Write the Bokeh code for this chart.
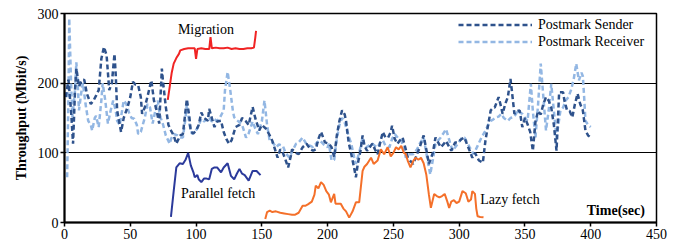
from bokeh.plotting import figure
from bokeh.models import Range1d, FixedTicker, Legend, LegendItem, ColumnDataSource
from bokeh.core.properties import value
from bokeh.embed import file_html
from bokeh.resources import INLINE

# ---- data ----
sender_t = [1,3,5,6.5,8,9,11,13,15,17,20,22,24,26,28,30,32,34,36,38,39,40,42,43,45,48,50,52,54,56,58,59,61,63,66,68,70,72,74,75,77,79,81,83,85,88,90,93,95,96,98,100,102,104,106,109,110,112,114,116,119,121,123,125,127,130,133,135,138,140,143,145,148,150,153,156,158,160,162,164,166,168,170,172,173,176,178,181,184,187,189,191,193,195,198,201,203,205,207,209,211,213,214,216,218,220,221.5,223,225,226.6,228,230,232,234,236,238,240,242,244,246,248,249,251,253,255,257,259,261,263,265,268,270,273,275,277,280,282,284,286,288,290,292,294,297,299,302,304,306,308,310,312,315,318,320,322,324,326,327,330,332,333,335,337,339,340,342,344,346,348,350,352,354,356,358,360,362,364,366,368,370,372,374,376,379,380,382,384,386,388,390,392,394,396,398,400]
sender_v = [180,205,160,113,190,221,195,204,205,185,170,175,182,190,235,252,240,190,200,242,210,161,140,130,150,166,180,202,198,197,180,156,165,180,204,175,161,142,221,200,166,140,132,125,113,125,127,177,150,130,128,132,140,158,150,146,163,150,137,145,146,130,120,113,118,137,140,150,145,140,166,150,132,140,135,125,117,105,93,105,100,90,79,95,105,100,98,108,113,105,103,105,120,130,115,113,108,94,125,146,161,155,146,115,98,80,65,85,103,125,110,103,108,113,105,98,115,130,122,122,130,139,120,113,118,122,108,93,88,84,98,108,125,105,84,100,122,115,108,112,117,110,103,115,115,120,122,112,103,93,100,89,86,118,140,161,165,165,180,165,156,170,180,206,190,156,160,161,137,150,141,130,103,145,160,155,170,180,175,165,140,103,187,187,175,161,160,151,170,185,170,161,132,125,122]

receiver_t = [2,3,3.6,5,6,8,9,10,11,13,14,16,18,20,21,23,24,26,28,29,31,33,35,37,39,40,42,45,47,49,51,53,55,56,58,59,61,63,65,67,69,71,72,73,75,77,80,81,83,86,88,90,92,93,95,97,99,101,104,106,108,110,112,114,116,118,121,122,124,126,128,129,131,133,135,138,140,143,145,147,150,152,154,156,158,161,163,166,168,171,173,176,178,181,184,187,189,192,194,197,200,201,203,205,207,209,211,212.6,215,218,220,221.5,224,226.6,228,230,232,234,236,238,240,242,244,247,249,251,254,256,258,259.5,262,265,268,270,273,275,278,280,282,284,286,288,290,293,295,297,299,302,304,306,308,311,314,317,320,322,324,326,328,330,332,334,337,339,341,343,344.4,346,348,350,352,354.5,356,358,360,362,364,366,368,370,372,374,377,379,381,383,385,387,389,391,393,394,395,396,398,400]
receiver_v = [65,180,293,200,151,190,230,200,161,190,200,170,146,140,132,150,153,137,175,200,175,142,160,175,160,146,140,175,170,158,150,149,140,127,130,137,150,170,165,142,160,175,160,151,140,125,113,120,127,125,122,122,150,170,140,127,130,135,149,145,148,151,145,148,146,150,161,190,216,190,160,151,147,144,140,122,128,145,135,127,145,175,140,117,115,108,112,110,100,93,102,113,115,122,112,110,108,115,118,112,108,113,89,90,120,140,150,146,130,113,95,84,100,122,112,108,112,113,110,108,115,118,110,108,120,127,120,118,105,93,98,98,105,113,122,100,69,90,113,118,122,128,134,115,103,108,113,122,122,115,108,98,110,122,132,140,146,148,151,152,156,150,146,150,151,155,161,158,156,150,146,199,160,122,170,228,180,132,160,199,160,122,161,165,175,180,190,205,228,204,215,210,180,146,140,137]

migration_t = [78.5,80,81.5,83,85,87,88,91,94,97,99,100,101,104,107,110,111,112,115,118,121,124,127,130,133,136,139,142,144,145,145.6]
migration_v = [176,195,215,228,236,242,247,249,250,250,250,235,249,250,249,249,266,250,251,250,250,251,249,250,249,249,250,250,251,265,275]

parallel_t = [80.9,83,85,87.5,90,92,94,96,98,99,101,102,104,106,108,110,112,114,116,119,121,124,126.5,129,131,133,135,137,140,143,146,149]
parallel_v = [8,45,79,85,84,90,100,82,72,65,68,62,58,63,63,62,77,79,79,72,79,85,67,62,70,77,70,68,60,74,74,68]

lazy_t = [152.6,154,156,158,160.7,164,167,170,173,175,178,181,183,185,188,190,191,193,195,197,199,201,202.5,205,206,210,212,214,216.4,219,221.5,224,226.6,228,230,233,235,238,240.5,243,245.6,248,250,252,254,256,258,259.5,261,263,265,267,269,271,273,275,277,278.5,281,283,285,287,289,291,292.4,294,296,298,300,302.5,305,307,309,310,312,313,314,316,318.5]
lazy_v = [5,15,17,15,16,14,13,12,11,11,14,24,24,26,30,40,53,49,58,54,45,40,29,41,27,27,20,16,7,16,29,29,74,80,84,93,84,89,105,98,108,95,100,108,105,110,100,98,88,79,88,93,90,93,85,69,40,21,41,38,36,38,41,30,21,30,32,28,30,45,42,30,33,45,41,20,9,8,7.5]

x_ticks = [0, 50, 100, 150, 200, 250, 300, 350, 400, 450]
y_ticks = [0, 100, 200, 300]

SERIF = "Liberation Serif"

p = figure(width=680, height=242, output_backend="svg", toolbar_location=None,
           x_range=Range1d(0, 450), y_range=Range1d(0, 300),
           min_border_left=64, min_border_right=24, min_border_top=13, min_border_bottom=20)

p.background_fill_color = "white"
p.border_fill_color = "white"
p.outline_line_color = "black"
p.outline_line_width = 1.5

p.xgrid.visible = False
p.ygrid.ticker = FixedTicker(ticks=[100, 200])
p.ygrid.grid_line_color = "black"
p.ygrid.grid_line_width = 1.2

p.xaxis.ticker = FixedTicker(ticks=x_ticks)
p.yaxis.ticker = FixedTicker(ticks=y_ticks)
for ax in (p.xaxis, p.yaxis):
    ax.axis_line_color = "black"
    ax.axis_line_width = 2
    ax.major_tick_line_color = "black"
    ax.major_tick_line_width = 1.5
    ax.major_tick_in = 0
    ax.major_tick_out = 4
    ax.minor_tick_line_color = None
    ax.major_label_text_font = SERIF
    ax.major_label_text_font_size = "14px"
    ax.major_label_text_color = "black"
    ax.major_label_standoff = 2

p.yaxis.axis_label = "Throughput (Mbit/s)"
p.yaxis.axis_label_text_font = SERIF
p.yaxis.axis_label_text_font_style = "bold"
p.yaxis.axis_label_text_font_size = "14px"
p.yaxis.axis_label_text_color = "black"
p.yaxis.axis_label_standoff = 6

SENDER = "#2E528C"
RECEIVER = "#93B7E3"

r_recv = p.line(receiver_t, receiver_v, line_color=RECEIVER, line_width=2.5, line_dash="5 3")
r_send = p.line(sender_t, sender_v, line_color=SENDER, line_width=2.5, line_dash="5 3")
p.line(migration_t, migration_v, line_color="#F02424", line_width=2)
p.line(parallel_t, parallel_v, line_color="#2B3A9B", line_width=2)
p.line(lazy_t, lazy_v, line_color="#F4702A", line_width=2)

labels = ColumnDataSource(dict(
    x=[86.2, 88.5, 316, 397],
    y=[277.7, 41.8, 32.3, 17.9],
    t=["Migration", "Parallel fetch", "Lazy fetch", "Time(sec)"],
    s=["normal", "normal", "normal", "bold"],
))
p.text(x="x", y="y", text="t", source=labels, text_font=value(SERIF), text_font_size="14px",
       text_font_style="s", text_color="black", text_baseline="middle", text_align="left")

legend = Legend(items=[LegendItem(label="Postmark Sender", renderers=[r_send]),
                       LegendItem(label="Postmark Receiver", renderers=[r_recv])],
                location=(394, 172))
legend.border_line_color = None
legend.background_fill_alpha = 0
legend.padding = 0
legend.margin = 0
legend.spacing = 0
legend.glyph_width = 74
legend.glyph_height = 17
legend.label_height = 17
legend.label_standoff = 6
legend.label_text_font = SERIF
legend.label_text_font_size = "14px"
legend.label_text_color = "black"
p.add_layout(legend, "center")

open("out.html", "w").write(file_html(p, INLINE))
